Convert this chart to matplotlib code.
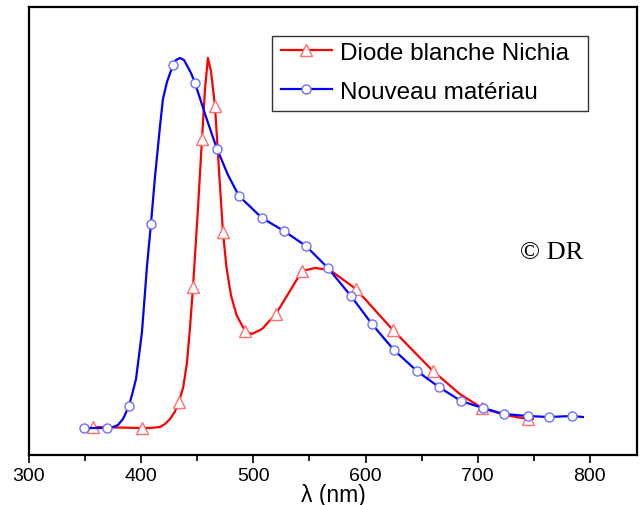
import matplotlib
matplotlib.use("Agg")
import matplotlib.pyplot as plt
from matplotlib.patches import Rectangle

plt.rcParams['font.family'] = ['Liberation Sans', 'DejaVu Sans']

# Diode blanche Nichia (red curve)
red_x = [357.0, 400.7, 408.0, 416.8, 421.2, 425.7, 429.9, 433.7, 437.5, 440.8, 443.5, 446.2,
         450.6, 454.2, 456.9, 459.5, 462.2, 465.8, 469.3, 472.9, 476.0, 480.0, 485.0, 492.5,
         498.8, 507.7, 520.1, 532.6, 543.3, 554.9, 568.3, 591.4, 624.4, 660.1, 684.1, 703.7,
         724.2, 744.7, 749.2]
red_y = [28, 27, 27, 28, 31, 36, 43, 53, 68, 92, 127, 168,
         246, 316, 366, 397, 384, 349, 286, 223, 188, 160, 140, 124,
         121, 126, 141, 164, 184, 187, 185, 166, 125, 84, 61, 47,
         40, 36, 36]
red_marks = [0, 1, 7, 11, 13, 17, 19, 23, 26, 28, 31, 32, 33, 35, 37]

# Nouveau materiau (blue curve)
blue_x = [349.0, 369.5, 374.9, 379.3, 383.8, 389.1, 392.0, 395.4, 400.7, 405.2, 408.7, 412.3,
          416.8, 419.4, 423.0, 428.3, 431.0, 434.6, 438.2, 444.4, 448.0, 457.5, 467.6, 477.4,
          487.2, 507.7, 527.3, 546.9, 566.5, 587.0, 605.7, 625.3, 645.8, 665.4, 685.0, 704.6,
          723.4, 744.7, 763.4, 783.9, 793.8]
blue_y = [27, 27, 28, 30, 36, 49, 61, 76, 123, 189, 231, 278,
          329, 356, 373, 390, 395, 397, 395, 382, 372, 339, 306, 280,
          259, 237, 224, 209, 187, 159, 131, 105, 84, 68, 54, 47,
          41, 39, 38, 39, 38]
blue_marks = [0, 1, 5, 10, 15, 20, 22, 24, 25, 26, 27, 28, 29, 30, 31, 32, 33, 34, 35, 36, 37, 38, 39]

fig = plt.figure(figsize=(6.44, 5.06), dpi=100)
ax = fig.add_axes([29/644, 1-456/506, (637-29)/644, (456-8)/506])

ax.plot(red_x, red_y, color='#ff0000', lw=1.6, marker='^', markevery=red_marks,
        ms=8, mfc='white', mec='#ff7070', mew=1.0, label='Diode blanche Nichia')
ax.plot(blue_x, blue_y, color='#0000ff', lw=1.6, marker='o', markevery=blue_marks,
        ms=6.5, mfc='white', mec='#7070ff', mew=1.0, label='Nouveau matériau')

ax.set_xlim(300, 842)
ax.set_ylim(0, 448)
ax.set_yticks([])
ax.set_xticks([300, 400, 500, 600, 700, 800])
ax.set_xticks([350, 450, 550, 650, 750], minor=True)
ax.tick_params(axis='x', which='major', direction='out', length=6, width=1.2, labelsize=14, pad=3)
ax.tick_params(axis='x', which='minor', direction='out', length=4, width=1.2)
for s in ax.spines.values():
    s.set_linewidth(1.6)
ax.set_xlabel('λ (nm)', fontsize=16.5, labelpad=-1)

# legend box (text clipped at right edge like the original)
box = Rectangle((272/644, 1-112/506), (588-272)/644, (112-37)/506, transform=fig.transFigure,
                fill=False, edgecolor='#333333', lw=1.0)
fig.add_artist(box)
leg = ax.legend(loc='upper left', bbox_to_anchor=(276/644, 1-38/506), bbox_transform=fig.transFigure,
                frameon=False, fontsize=17.5, handlelength=2.1, handletextpad=0.35,
                labelspacing=0.7, borderpad=0.2, borderaxespad=0)
for t in leg.get_texts():
    t.set_clip_path(box)

ax.text(0.808, 0.453, '© DR', transform=ax.transAxes, fontsize=19,
        family=['Liberation Serif', 'DejaVu Serif'], ha='left', va='center')

fig.savefig('out.png', dpi=100)
